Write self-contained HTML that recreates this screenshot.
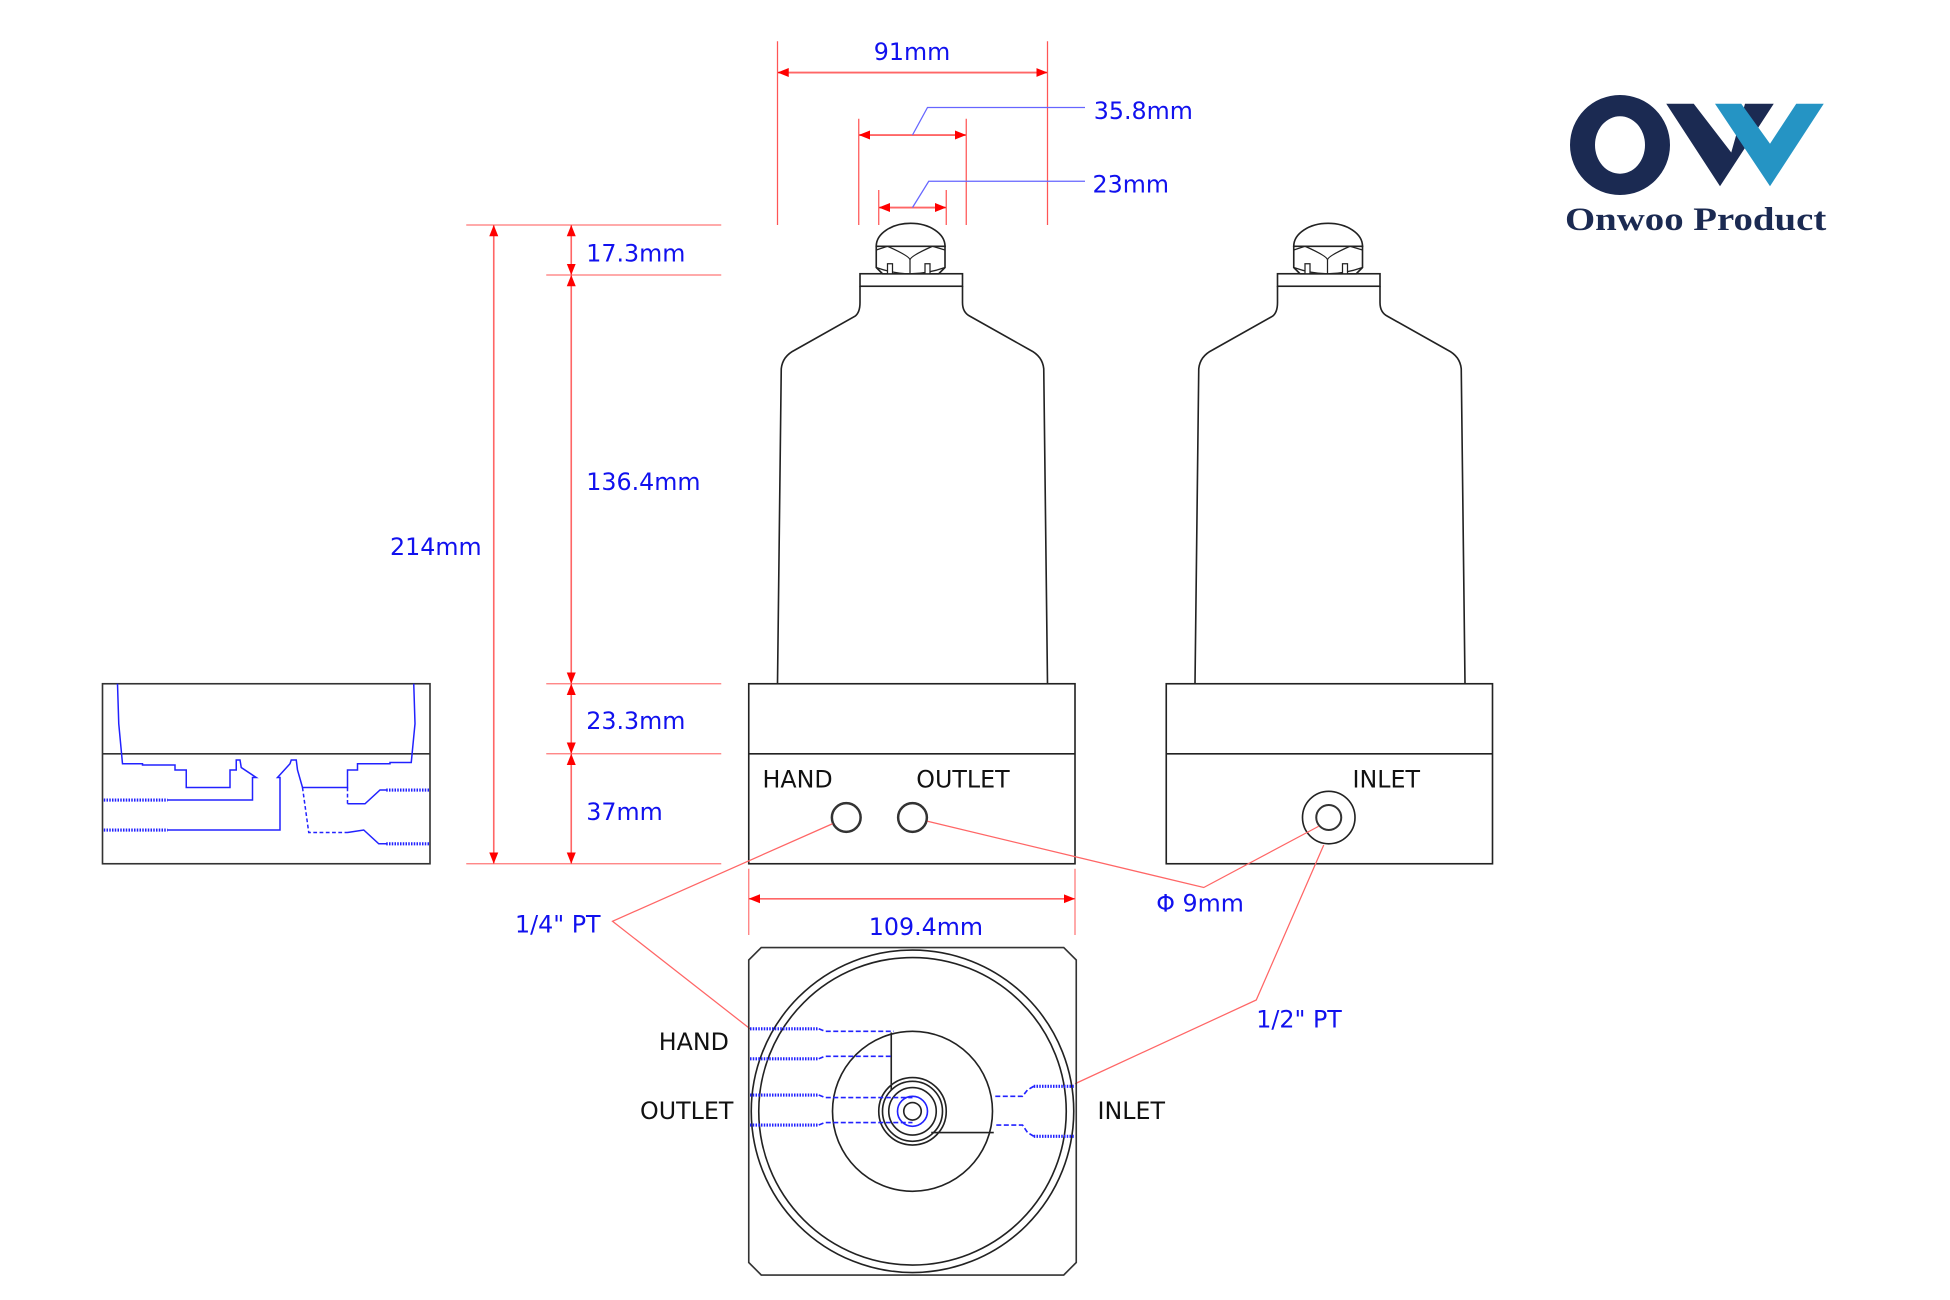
<!DOCTYPE html>
<html><head><meta charset="utf-8"><style>
html,body{margin:0;padding:0;background:#fff;}
svg{display:block;}
text{font-family:"DejaVu Sans","Liberation Sans",sans-serif;}
</style></head><body>
<svg width="1950" height="1300" viewBox="0 0 1560 1040" xmlns="http://www.w3.org/2000/svg">
<defs>
<marker id="ar" viewBox="0 0 10 10" refX="10" refY="5" markerWidth="9" markerHeight="9" orient="auto-start-reverse" markerUnits="userSpaceOnUse"><path d="M0,1 L10,5 L0,9 z" fill="#f00"/></marker>
<g id="bottle">
  <path d="M622,547 L625,295 Q626,285 636,280 L684,253 Q688,250 688,242 L688,229 M838,547 L835,295 Q834,285 824,280 L776,253 Q770,250 770,242 L770,229" fill="none" stroke="#222" stroke-width="1.3"/>
  <rect x="688" y="219" width="82" height="10" fill="#fff" stroke="#222" stroke-width="1.3"/>
  <path d="M701,197 A27,18 0 0 1 756,197 Z" fill="#fff" stroke="#222" stroke-width="1.3"/>
  <path d="M701,197 L701,214 L706,219 L751,219 L756,214 L756,197 Z" fill="#fff" stroke="#222" stroke-width="1.3"/>
  <path d="M701,200 L710,197 L728,197 L746,197 L756,200 M710,197 Q728,205 728,208 Q728,205 746,197 M728,208 L728,219 M701,214 Q715,219 728,219 Q742,219 756,214" fill="none" stroke="#222" stroke-width="1"/>
  <rect x="710" y="211" width="4" height="8" fill="#fff" stroke="#222" stroke-width="1"/>
  <rect x="740" y="211" width="4" height="8" fill="#fff" stroke="#222" stroke-width="1"/>
  <rect x="599" y="547" width="261" height="144" fill="none" stroke="#222" stroke-width="1.3"/>
  <line x1="599" y1="603" x2="860" y2="603" stroke="#222" stroke-width="1.3"/>
</g>
</defs>

<use href="#bottle"/>
<use href="#bottle" transform="translate(334,0)"/>

<circle cx="677" cy="654" r="11.5" fill="none" stroke="#333" stroke-width="2"/>
<circle cx="730" cy="654" r="11.5" fill="none" stroke="#333" stroke-width="2"/>
<circle cx="1063" cy="654" r="21" fill="none" stroke="#222" stroke-width="1.3"/>
<circle cx="1063" cy="654" r="10" fill="none" stroke="#333" stroke-width="1.6"/>
<g font-size="19" fill="#111">
<text x="610" y="630">HAND</text>
<text x="733" y="630">OUTLET</text>
<text x="1082" y="630">INLET</text>
<text x="527" y="840">HAND</text>
<text x="512" y="895">OUTLET</text>
<text x="878" y="895">INLET</text>
</g>

<g stroke="#f55" stroke-width="1" fill="none">
<line x1="622" y1="33" x2="622" y2="180"/><line x1="838" y1="33" x2="838" y2="180"/>
<line x1="687" y1="95" x2="687" y2="180"/><line x1="773" y1="95" x2="773" y2="180"/>
<line x1="703" y1="152" x2="703" y2="180"/><line x1="757" y1="152" x2="757" y2="180"/>
</g>
<g stroke="#f66" stroke-width="1.5">
<line x1="622" y1="58" x2="838" y2="58" marker-start="url(#ar)" marker-end="url(#ar)"/>
<line x1="687" y1="108" x2="773" y2="108" marker-start="url(#ar)" marker-end="url(#ar)"/>
<line x1="703" y1="166" x2="757" y2="166" marker-start="url(#ar)" marker-end="url(#ar)"/>
</g>
<g stroke="#66f" stroke-width="1" fill="none">
<polyline points="730,108 742,86 868,86"/>
<polyline points="730,166 743,145 868,145"/>
</g>
<g font-size="19" fill="#11e">
<text x="699" y="48">91mm</text>
<text x="875" y="95">35.8mm</text>
<text x="874" y="154">23mm</text>
<text x="312" y="444">214mm</text>
<text x="469" y="209">17.3mm</text>
<text x="469" y="392">136.4mm</text>
<text x="469" y="583">23.3mm</text>
<text x="469" y="656">37mm</text>
<text x="695" y="748">109.4mm</text>
<text x="925" y="729">Φ 9mm</text>
<text x="412" y="746">1/4" PT</text>
<text x="1005" y="822">1/2" PT</text>
</g>

<g stroke="#f77" stroke-width="1">
<line x1="373" y1="180" x2="577" y2="180"/>
<line x1="437" y1="220" x2="577" y2="220"/>
<line x1="437" y1="547" x2="577" y2="547"/>
<line x1="437" y1="603" x2="577" y2="603"/>
<line x1="373" y1="691" x2="577" y2="691"/>
<line x1="599" y1="695" x2="599" y2="748"/>
<line x1="860" y1="695" x2="860" y2="748"/>
</g>
<g stroke="#f66" stroke-width="1.3">
<line x1="395" y1="180" x2="395" y2="691" marker-start="url(#ar)" marker-end="url(#ar)"/>
<line x1="457" y1="180" x2="457" y2="220" marker-start="url(#ar)" marker-end="url(#ar)"/>
<line x1="457" y1="220" x2="457" y2="547" marker-start="url(#ar)" marker-end="url(#ar)"/>
<line x1="457" y1="547" x2="457" y2="603" marker-start="url(#ar)" marker-end="url(#ar)"/>
<line x1="457" y1="603" x2="457" y2="691" marker-start="url(#ar)" marker-end="url(#ar)"/>
<line x1="599" y1="719" x2="860" y2="719" marker-start="url(#ar)" marker-end="url(#ar)"/>
</g>

<g stroke="#f66" stroke-width="1" fill="none">
<polyline points="742,657 963,710 1055,661"/>
<polyline points="666,659 490,737 600,823"/>
<polyline points="1059,676 1005,800 860,867"/>
</g>

<rect x="82" y="547" width="262" height="144" fill="none" stroke="#333" stroke-width="1.3"/>
<line x1="82" y1="603" x2="344" y2="603" stroke="#333" stroke-width="1.3"/>
<g stroke="#22f" stroke-width="1.2" fill="none">
<polyline points="94,547 95,579 98,611 114,611 114,612 140,612 140,616 149,616 149,630 184,630 184,616 189,616 189,608 192,608 193,614 205,622 202,622 202,640 134,640"/>
<polyline points="134,664 224,664 224,622 222,622 232,611 233,608 237,608 238,616 242,630 278,630 278,616 286,616 286,611 312,611 312,610 329,610 332,579 331,547"/>
<polyline points="278,630 278,643" stroke-dasharray="3 2"/>
<polyline points="278,643 292,643 304,632 310,632"/>
<polyline points="242,630 247,666 278,666" stroke-dasharray="3 2"/>
<polyline points="278,666 291,664 303,675 310,675"/>
</g>
<g stroke="#22f" stroke-width="2.5" stroke-dasharray="1.2 1" fill="none">
<line x1="83" y1="640" x2="134" y2="640"/>
<line x1="83" y1="664" x2="134" y2="664"/>
<line x1="309" y1="632" x2="344" y2="632"/>
<line x1="309" y1="675" x2="344" y2="675"/>
</g>

<path d="M609,758 L851,758 L861,768 L861,1010 L851,1020 L609,1020 L599,1010 L599,768 Z" fill="none" stroke="#333" stroke-width="1.3"/>
<g fill="none" stroke="#222" stroke-width="1.3">
<circle cx="730" cy="889" r="129"/>
<circle cx="730" cy="889" r="123"/>
<circle cx="730" cy="889" r="64"/>
<circle cx="730" cy="889" r="27"/>
<circle cx="730" cy="889" r="24"/>
<circle cx="730" cy="889" r="19"/>
<circle cx="730" cy="889" r="7"/>
<line x1="713" y1="826" x2="713" y2="872"/>
<line x1="745" y1="906" x2="795" y2="906"/>
</g>
<circle cx="730" cy="889" r="12" fill="none" stroke="#22f" stroke-width="1.3"/>
<g stroke="#22f" stroke-width="1.3" stroke-dasharray="4 2" fill="none">
<polyline points="655,823 660,825 715,825"/>
<polyline points="655,847 660,845 713,845"/>
<polyline points="655,876 660,878 730,878"/>
<polyline points="655,900 660,898 730,898"/>
<polyline points="827,869 822,872 818,877 795,877"/>
<polyline points="827,909 822,906 818,900 795,900"/>
</g>
<g stroke="#22f" stroke-width="2.5" stroke-dasharray="1.2 1" fill="none">
<line x1="600" y1="823" x2="655" y2="823"/>
<line x1="600" y1="847" x2="655" y2="847"/>
<line x1="600" y1="876" x2="655" y2="876"/>
<line x1="600" y1="900" x2="655" y2="900"/>
<line x1="827" y1="869" x2="860" y2="869"/>
<line x1="827" y1="909" x2="860" y2="909"/>
</g>

<path fill-rule="evenodd" fill="#1b2a52" d="M1256,116 a40,40 0 1,0 80,0 a40,40 0 1,0 -80,0 Z M1276,116 a20,23 0 1,0 40,0 a20,23 0 1,0 -40,0 Z"/>
<polygon fill="#1b2a52" points="1333,83 1355,83 1385,122 1396,83 1419,83 1376,149"/>
<polygon fill="#2594c4" points="1372,83 1393,83 1416,115 1437,83 1459,83 1416,149"/>
<text x="1252" y="184" style="font-family:'Liberation Serif',serif;font-weight:bold;" font-size="26" fill="#1b2a52" textLength="209" lengthAdjust="spacingAndGlyphs">Onwoo Product</text>
</svg>
</body></html>
